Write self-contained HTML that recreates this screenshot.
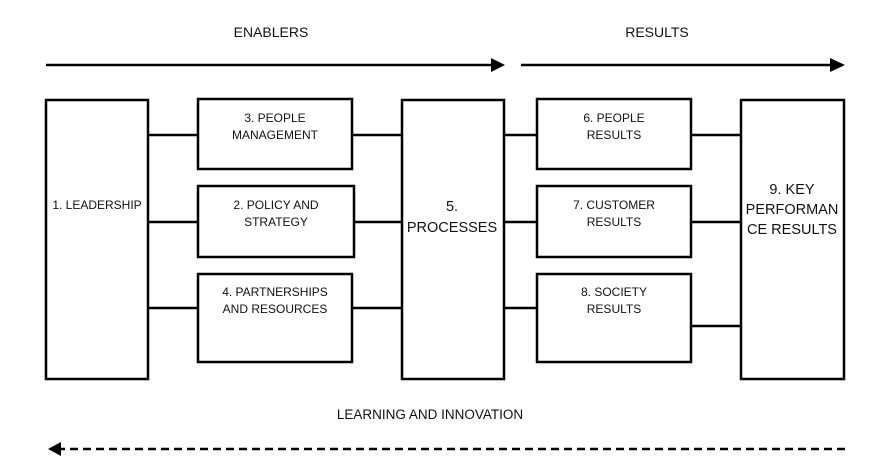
<!DOCTYPE html>
<html><head><meta charset="utf-8"><style>
html,body{margin:0;padding:0;background:#fff;}
svg{display:block;}
text{font-family:"Liberation Sans",Arial,sans-serif;fill:#111;}
</style></head><body>
<svg width="883" height="469" viewBox="0 0 883 469" xmlns="http://www.w3.org/2000/svg">
<g font-size="14" text-anchor="middle">
<text x="271" y="37">ENABLERS</text>
<text x="657" y="37">RESULTS</text>
<text x="430" y="419" font-size="13.5">LEARNING AND INNOVATION</text>
</g>
<g stroke="#000" stroke-width="2.5">
<line x1="46" y1="65" x2="494" y2="65"/>
<line x1="521" y1="65" x2="833" y2="65"/>
</g>
<polygon points="491,58 505,65 491,72" fill="#000"/>
<polygon points="830,58 845,65 830,72" fill="#000"/>
<line x1="845" y1="449" x2="60" y2="449" stroke="#000" stroke-width="2.5" stroke-dasharray="8,5"/>
<polygon points="61,442 48,449 61,456" fill="#000"/>
<g fill="none" stroke="#000" stroke-width="2.5">
<rect x="46" y="100" width="102" height="279"/>
<rect x="198" y="99" width="154" height="70"/>
<rect x="198" y="186" width="156" height="71"/>
<rect x="198" y="274" width="154" height="88"/>
<rect x="402" y="100" width="102" height="279"/>
<rect x="537" y="99" width="154" height="70"/>
<rect x="537" y="186" width="154" height="71"/>
<rect x="537" y="274" width="154" height="88"/>
<rect x="741" y="100" width="103" height="279"/>
<line x1="148" y1="135" x2="198" y2="135"/>
<line x1="148" y1="222" x2="198" y2="222"/>
<line x1="148" y1="308" x2="198" y2="308"/>
<line x1="352" y1="135" x2="402" y2="135"/>
<line x1="354" y1="222" x2="402" y2="222"/>
<line x1="352" y1="308" x2="402" y2="308"/>
<line x1="504" y1="135" x2="537" y2="135"/>
<line x1="504" y1="222" x2="537" y2="222"/>
<line x1="504" y1="308" x2="537" y2="308"/>
<line x1="691" y1="135" x2="741" y2="135"/>
<line x1="691" y1="222" x2="741" y2="222"/>
<line x1="691" y1="326" x2="741" y2="326"/>
</g>
<g font-size="12" text-anchor="middle">
<text x="97" y="209">1. LEADERSHIP</text>
<text x="275" y="122">3. PEOPLE</text>
<text x="275" y="139">MANAGEMENT</text>
<text x="276" y="209">2. POLICY AND</text>
<text x="276" y="226">STRATEGY</text>
<text x="275" y="296">4. PARTNERSHIPS</text>
<text x="275" y="313">AND RESOURCES</text>
<text x="614" y="122">6. PEOPLE</text>
<text x="614" y="139">RESULTS</text>
<text x="614" y="209">7. CUSTOMER</text>
<text x="614" y="226">RESULTS</text>
<text x="614" y="296">8. SOCIETY</text>
<text x="614" y="313">RESULTS</text>
</g>
<g font-size="14.5" text-anchor="middle">
<text x="452" y="211">5.</text>
<text x="452" y="232">PROCESSES</text>
<text x="792" y="194">9. KEY</text>
<text x="792" y="214">PERFORMAN</text>
<text x="792" y="234">CE RESULTS</text>
</g>
</svg>
</body></html>
